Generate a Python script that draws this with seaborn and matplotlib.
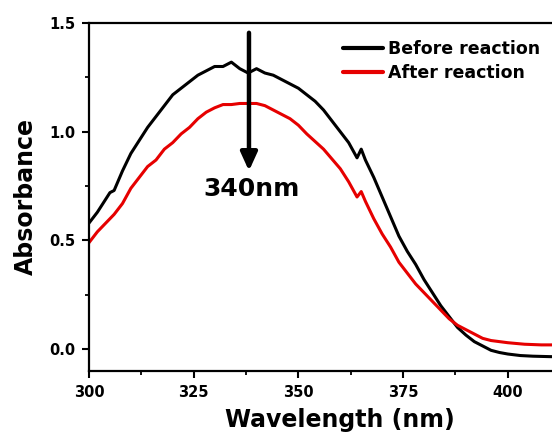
import matplotlib
matplotlib.use('Agg')
import matplotlib.pyplot as plt
from matplotlib.ticker import MultipleLocator
import pandas as pd
import seaborn as sns


# values (nm, absorbance)
wavelength_before = [300, 302, 304, 305, 306, 308, 310, 312, 314, 316, 318, 320, 322, 324, 326, 328,
                     330, 332, 334, 336, 338, 340, 342, 344, 346, 348, 350, 352, 354, 356, 358, 360,
                     362, 364, 365, 366, 368, 370, 372, 374, 376, 378, 380, 382, 384, 386, 388, 390,
                     392, 394, 396, 398, 400, 403, 406, 410, 414]
absorb_before = [0.58, 0.63, 0.69, 0.72, 0.73, 0.82, 0.90, 0.96, 1.02, 1.07, 1.12, 1.17, 1.20, 1.23, 1.26, 1.28,
                 1.30, 1.30, 1.32, 1.29, 1.27, 1.29, 1.27, 1.26, 1.24, 1.22, 1.20, 1.17, 1.14, 1.10, 1.05, 1.00,
                 0.95, 0.88, 0.92, 0.87, 0.79, 0.70, 0.61, 0.52, 0.45, 0.39, 0.32, 0.26, 0.20, 0.15, 0.10, 0.065,
                 0.035, 0.015, -0.005, -0.015, -0.022, -0.029, -0.032, -0.034, -0.035]

wavelength_after = [300, 302, 304, 306, 308, 310, 312, 314, 316, 318, 320, 322, 324, 326, 328, 330,
                    332, 334, 336, 338, 340, 342, 344, 346, 348, 350, 352, 354, 356, 358, 360, 362,
                    364, 365, 366, 368, 370, 372, 374, 376, 378, 380, 382, 384, 386, 388, 390, 392,
                    394, 396, 398, 400, 404, 408, 414]
absorb_after = [0.49, 0.54, 0.58, 0.62, 0.67, 0.74, 0.79, 0.84, 0.87, 0.92, 0.95, 0.99, 1.02, 1.06, 1.09, 1.11,
                1.125, 1.125, 1.13, 1.13, 1.13, 1.12, 1.10, 1.08, 1.06, 1.03, 0.99, 0.955, 0.92, 0.875, 0.83, 0.77,
                0.70, 0.725, 0.68, 0.60, 0.53, 0.47, 0.40, 0.35, 0.30, 0.26, 0.22, 0.18, 0.14, 0.11, 0.09, 0.07,
                0.05, 0.04, 0.035, 0.03, 0.023, 0.02, 0.02]

series_names = ['Before reaction', 'After reaction']
series_colors = ['black', '#e60000']


def make_plot():
    sns.set_style('ticks')
    plt.rcParams['font.family'] = ['DejaVu Sans']
    plt.rcParams['font.weight'] = 'bold'
    for key in ['text.color', 'axes.labelcolor', 'xtick.color', 'ytick.color', 'axes.edgecolor']:
        plt.rcParams[key] = 'black'

    df = pd.concat([
        pd.DataFrame({'Wavelength': wavelength_before, 'Absorbance': absorb_before, 'Sample': series_names[0]}),
        pd.DataFrame({'Wavelength': wavelength_after, 'Absorbance': absorb_after, 'Sample': series_names[1]}),
    ], ignore_index=True)

    fig = plt.figure(figsize=(5.52, 4.38), dpi=100)
    # axes run past the right edge, like the cropped original
    ax = fig.add_axes([0.1612, 0.153, 0.9105, 0.7945])

    sns.lineplot(data=df, x='Wavelength', y='Absorbance', hue='Sample', hue_order=series_names,
                 palette=series_colors, linewidth=2.2, ax=ax, sort=False)

    ax.set_xlim(300, 420)
    ax.set_ylim(-0.1, 1.5)
    ax.xaxis.set_major_locator(MultipleLocator(25))
    ax.xaxis.set_minor_locator(MultipleLocator(12.5))
    ax.yaxis.set_major_locator(MultipleLocator(0.5))
    ax.yaxis.set_minor_locator(MultipleLocator(0.25))
    ax.yaxis.set_major_formatter(plt.FormatStrFormatter('%.1f'))

    for side in ['left', 'bottom', 'top', 'right']:
        ax.spines[side].set_visible(True)
        ax.spines[side].set_linewidth(1.6)
        ax.spines[side].set_color('black')
    ax.tick_params(which='major', direction='out', length=5, width=1.5, labelsize=10.5, pad=5,
                   colors='black')
    ax.tick_params(which='minor', direction='out', length=3, width=1.3, colors='black')
    ax.tick_params(axis='x', which='both', top=False)
    for lbl in ax.get_xticklabels() + ax.get_yticklabels():
        lbl.set_fontweight('bold')

    ax.set_xlabel('Wavelength (nm)', fontsize=17, fontweight='bold', labelpad=6, color='black')
    ax.set_ylabel('Absorbance', fontsize=17, fontweight='bold', labelpad=8, color='black')

    # arrow marking the 340 nm band
    ax.annotate('', xy=(338.2, 0.82), xytext=(338.2, 1.455),
                arrowprops=dict(arrowstyle='-|>,head_length=1.1,head_width=0.5', color='black',
                                lw=3.2, shrinkA=0, shrinkB=0))
    ax.text(338.7, 0.79, '340nm', ha='center', va='top', fontsize=18, fontweight='bold', color='black')

    handles, labels = ax.get_legend_handles_labels()
    leg = ax.legend(handles, labels, loc='upper left', bbox_to_anchor=(343 / 552, 1 - 40 / 438),
                    bbox_transform=fig.transFigure, frameon=False, borderpad=0, borderaxespad=0,
                    handlelength=2.3, handletextpad=0.3, labelspacing=0.35,
                    prop={'size': 12.5, 'weight': 'bold'})
    for line in leg.get_lines():
        line.set_linewidth(3)
    for txt in leg.get_texts():
        txt.set_color('black')

    fig.savefig('out.png', dpi=100)


if __name__ == '__main__':
    make_plot()
